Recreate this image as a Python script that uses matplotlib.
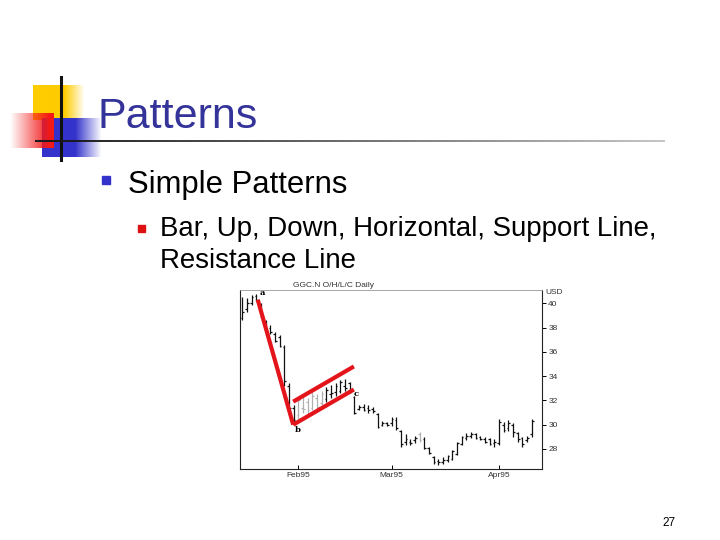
import matplotlib
matplotlib.use("Agg")
import matplotlib.pyplot as plt
import numpy as np
import pandas as pd

plt.rcParams["font.family"] = ["Liberation Sans", "DejaVu Sans"]

# ---- data -----------------------------------------------------------------
START_DATE = "1995-01-16"
MONTH_LABELS = ["Feb95", "Mar95", "Apr95"]
MONTH_STARTS = ["1995-02-01", "1995-03-01", "1995-04-01"]

highs = [40.5, 40.4, 40.7, 40.8, 40.0, 38.6, 38.2, 37.6, 37.4, 36.6, 33.4, 31.6,
         32.3, 32.4, 32.2, 32.7, 32.5, 32.8, 33.1, 33.3, 33.4, 33.7, 33.8, 33.5,
         32.4, 31.6, 31.7, 31.6, 31.5, 31.0, 30.3, 30.2, 30.6, 30.6,
         29.6, 29.2, 28.8, 29.1, 29.4, 29.0, 28.2, 27.4, 27.2, 27.3, 27.5, 27.9,
         28.6, 29.1, 29.3, 29.4, 29.3, 29.1, 29.0, 28.9, 28.8,
         30.5, 30.2, 30.4, 30.1, 29.4, 29.0, 29.1, 30.5]
lows = [38.6, 39.3, 39.9, 40.2, 38.8, 37.8, 37.5, 36.8, 36.4, 33.2, 31.2, 30.0,
        30.5, 31.0, 30.8, 31.2, 31.2, 31.5, 31.9, 32.2, 32.4, 32.6, 32.8, 32.6,
        30.9, 31.2, 31.1, 31.0, 31.0, 29.7, 29.9, 29.9, 29.9, 29.6,
        28.2, 28.3, 28.3, 28.5, 28.6, 28.0, 27.6, 26.8, 26.7, 26.8, 26.9, 27.1,
        27.5, 28.3, 28.7, 28.9, 28.8, 28.7, 28.5, 28.3, 28.2,
        28.3, 29.4, 29.5, 29.0, 28.6, 28.2, 28.6, 29.0]
opens = [38.8, 39.5, 40.0, 40.6, 39.9, 38.4, 38.0, 37.5, 37.2, 36.4, 33.2, 31.4,
         30.8, 31.4, 31.9, 31.4, 32.2, 31.8, 32.1, 32.5, 32.7, 32.8, 33.2, 33.4,
         32.3, 31.3, 31.5, 31.4, 31.3, 30.9, 30.0, 30.1, 30.1, 30.4,
         29.5, 28.6, 28.6, 28.7, 29.2, 28.8, 28.1, 27.3, 27.0, 26.9, 27.1, 27.2,
         27.6, 28.4, 28.9, 29.1, 29.2, 29.0, 28.8, 28.8, 28.5,
         28.5, 30.0, 29.7, 30.0, 29.3, 28.9, 28.7, 29.2]
closes = [39.3, 40.0, 40.5, 40.3, 38.9, 37.9, 37.6, 36.9, 36.5, 33.6, 31.4, 30.4,
          32.0, 31.3, 31.2, 32.4, 31.5, 32.5, 32.9, 32.6, 33.2, 33.5, 33.0, 32.7,
          31.0, 31.5, 31.2, 31.2, 31.1, 29.8, 30.1, 30.0, 30.5, 29.7,
          28.4, 28.8, 28.5, 28.9, 28.7, 28.1, 27.7, 26.9, 26.9, 27.1, 27.4, 27.8,
          28.5, 29.0, 29.1, 29.2, 28.9, 28.8, 28.6, 28.4, 28.6,
          30.2, 29.6, 30.1, 29.4, 28.8, 28.4, 28.9, 30.3]

# hand-drawn trend lines (bar index, price)
down_line_x = [3.3, 10.9]
down_line_y = [40.3, 30.0]
support_x = [10.9, 23.9]
support_y = [30.0, 32.9]
resist_x = [10.9, 23.9]
resist_y = [31.9, 34.8]
point_labels = ["a", "b", "c"]
point_x = [4.2, 11.8, 24.3]
point_y = [40.85, 29.6, 32.5]

Y_TICKS = [28, 30, 32, 34, 36, 38, 40]

GRAY_BARS = {12, 13, 14, 15, 16, 17, 38}

TITLE_BLUE = "#333399"


def hgrad(rgb, w, h, left_alpha, right_alpha, solid_frac):
    # horizontal alpha gradient image
    a = np.ones(w)
    n_fade = int(w * (1 - solid_frac))
    if right_alpha < left_alpha:
        a[w - n_fade:] = np.linspace(left_alpha, right_alpha, n_fade)
    else:
        a[:n_fade] = np.linspace(left_alpha, right_alpha, n_fade)
    img = np.zeros((h, w, 4))
    img[..., :3] = rgb
    img[..., 3] = a[None, :]
    return img


def draw_slide(fig):
    bg = fig.add_axes([0, 0, 1, 1])
    bg.set_xlim(0, 720)
    bg.set_ylim(540, 0)
    bg.axis("off")

    # logo blocks
    bg.imshow(hgrad((1.0, 0.8, 0.0), 60, 10, 1.0, 0.0, 0.6),
              extent=(33, 85, 120, 85), aspect="auto", zorder=1)
    bg.imshow(hgrad((0.2, 0.2, 0.8), 80, 10, 1.0, 0.0, 0.55),
              extent=(42, 102, 157, 118), aspect="auto", zorder=2)
    bg.imshow(hgrad((0.95, 0.1, 0.1), 60, 10, 0.0, 1.0, 0.1),
              extent=(10, 54, 148, 113), aspect="auto", zorder=3)
    bg.plot([61, 61], [77, 160], color="#111111", lw=2.2, zorder=4)

    # rule under the title, dark to light
    rule = np.zeros((2, 300, 4))
    rule[..., :3] = 0.1
    rule[..., 3] = np.linspace(1.0, 0.25, 300)[None, :]
    bg.imshow(rule, extent=(35, 665, 142, 140), aspect="auto",
              interpolation="bilinear", zorder=4)

    fig.text(98 / 720, 1 - 128 / 540, "Patterns", fontsize=31,
             color=TITLE_BLUE, va="baseline", ha="left")

    bg.add_patch(plt.Rectangle((102, 176), 8, 8, color="#3333cc", zorder=5))
    fig.text(128 / 720, 1 - 193 / 540, "Simple Patterns", fontsize=22.3,
             color="black", va="baseline", ha="left")

    bg.add_patch(plt.Rectangle((138, 225), 6.5, 6.5, color="#dd1111", zorder=5))
    fig.text(160 / 720, 1 - 236 / 540, "Bar, Up, Down, Horizontal, Support Line,",
             fontsize=19.9, color="black", va="baseline", ha="left")
    fig.text(160 / 720, 1 - 268 / 540, "Resistance Line",
             fontsize=19.9, color="black", va="baseline", ha="left")

    fig.text(676 / 720, 1 - 526 / 540, "27", fontsize=8.5,
             color="black", va="baseline", ha="right")


def draw_chart(fig):
    ax = fig.add_axes([240 / 720, 1 - 469 / 540, 302 / 720, 179 / 540])
    dates = pd.bdate_range(START_DATE, periods=len(highs))
    idx = np.arange(len(highs))
    cols = ["#b0b0b0" if i in GRAY_BARS else "#111111" for i in idx]

    ax.vlines(idx, lows, highs, colors=cols, lw=0.9)
    ax.hlines(opens, idx - 0.38, idx, colors=cols, lw=0.9)
    ax.hlines(closes, idx, idx + 0.38, colors=cols, lw=0.9)

    red = "#e4141b"
    for xs, ys in ((down_line_x, down_line_y), (support_x, support_y),
                   (resist_x, resist_y)):
        ax.plot(xs, ys, color=red, lw=3.0, solid_capstyle="butt", zorder=5)
    for lab, x, y in zip(point_labels, point_x, point_y):
        ax.text(x, y, lab, fontsize=6, fontweight="bold", family="DejaVu Serif",
                ha="center", va="center", zorder=6)

    ax.set_xlim(-0.5, 64.2)
    ax.set_ylim(26.35, 41.1)

    tick_pos = [int(np.searchsorted(dates, pd.Timestamp(d))) for d in MONTH_STARTS]
    ax.set_xticks(tick_pos)
    ax.set_xticklabels(MONTH_LABELS, fontsize=6, color="#333333")
    ax.tick_params(axis="x", direction="in", length=3, width=0.7, pad=2)

    ax.yaxis.tick_right()
    ax.set_yticks(Y_TICKS)
    ax.set_yticklabels([str(v) for v in Y_TICKS], fontsize=6, color="#333333")
    ax.tick_params(axis="y", direction="out", length=3, width=0.7, pad=1.5)

    for side in ("left", "bottom", "right"):
        ax.spines[side].set_linewidth(0.8)
        ax.spines[side].set_color("#222222")
    ax.spines["top"].set_linewidth(0.6)
    ax.spines["top"].set_color("#999999")

    ax.text(0.31, 1.005, "GGC.N O/H/L/C Daily", transform=ax.transAxes,
            fontsize=6, color="#333333", ha="center", va="bottom")
    ax.text(1.012, 0.985, "USD", transform=ax.transAxes,
            fontsize=6, color="#333333", ha="left", va="center")


def main():
    fig = plt.figure(figsize=(7.2, 5.4), dpi=100)
    fig.patch.set_facecolor("white")
    draw_slide(fig)
    draw_chart(fig)
    fig.savefig("out.png", dpi=100)


if __name__ == "__main__":
    main()
